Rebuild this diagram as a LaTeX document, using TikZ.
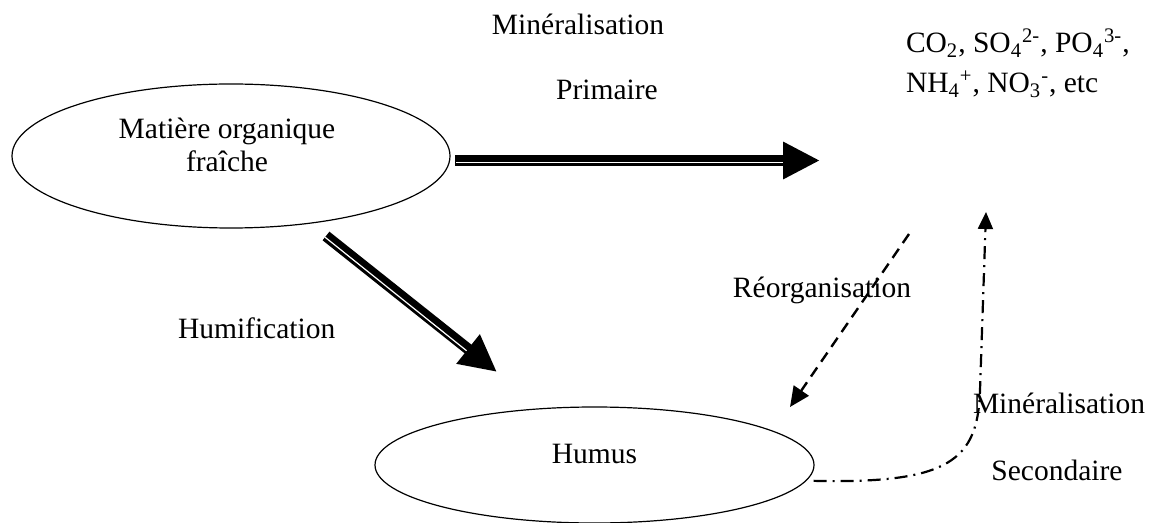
\documentclass[tikz,border=0pt]{standalone}
\usepackage{fontspec}
\setmainfont{Liberation Serif}
\usetikzlibrary{arrows.meta,shapes.geometric,calc}
\begin{document}
\begin{tikzpicture}[x=0.5pt,y=-0.5pt,
  every node/.style={font=\fontsize{14.75pt}{16.5pt}\selectfont, inner sep=0pt, outer sep=0pt},
  blob/.style={ellipse, draw, line width=0.6pt},
  lbl/.style={anchor=base},
  bigarrow/.style={line width=5.5pt, -{Triangle[length=18.5pt,width=17.5pt]}},
  gapline/.style={white, line width=0.6pt},
  dasharrow/.style={line width=1.2pt, dash pattern=on 5.5pt off 3.5pt, -{Triangle[length=10pt,width=9pt]}},
  dotdasharrow/.style={line width=1.1pt, dash pattern=on 6.5pt off 3pt on 1pt off 3pt, -{Triangle[length=8.5pt,width=7.5pt]}}
]
\useasboundingbox (0,0) rectangle (1149,523);

% ellipses
\node[blob, minimum width=219pt, minimum height=72pt] (mof) at (231,156) {};
\node[align=center] (moftext) at (227,145) {Matière organique\\fraîche};
\node[blob, minimum width=219.5pt, minimum height=58pt, text height=10pt, text depth=12pt] (humus) at (594.5,465) {Humus};

% labels
\node[lbl] (min1) at (578,35) {Minéralisation};
\node[lbl] (prim) at (607,100) {Primaire};
\node[anchor=base west, align=left] (ions) at (906,93)
  {CO\textsubscript{2}, SO\textsubscript{4}\textsuperscript{2-}, PO\textsubscript{4}\textsuperscript{3-},\\[3.5pt]
   NH\textsubscript{4}\textsuperscript{+}, NO\textsubscript{3}\textsuperscript{-}, etc};
\node[lbl] (reorg) at (822,298) {Réorganisation};
\node[anchor=base west] (humif) at (178,338) {Humification};
\node[anchor=base west] (min2) at (973,413) {Minéralisation};
\node[lbl] (sec) at (1057,480) {Secondaire};

% coordinates
\coordinate (mintip) at (820,160.5);
\coordinate (hstart) at (326,236);
\coordinate (htip) at (497,372);
\coordinate (rstart) at (909,234);
\coordinate (rtip) at (790,407);
\coordinate (mtip) at (986,212);

% primary mineralisation
\coordinate (pstart) at ($(mof.east)+(5,4.5)$);
\draw[bigarrow] (pstart) -- (mintip);
\draw[gapline] ($(pstart)+(1,2.3)$) -- ($(mintip)!18.5pt!(pstart)+(0,2.3)$);

% humification
\draw[bigarrow] (hstart) -- (htip);
\draw[gapline] ($(hstart)+(-0.8,1.3)$) -- ($(htip)!18.5pt!(hstart)+(-1.43,1.8)$);

% reorganisation
\draw[dasharrow] (rstart) -- (rtip);

% secondary mineralisation
\draw[dotdasharrow] ($(humus.-4)+(7,1)$) .. controls (950,484) and (978,460) .. (980,390) -- (mtip);
\end{tikzpicture}
\end{document}
